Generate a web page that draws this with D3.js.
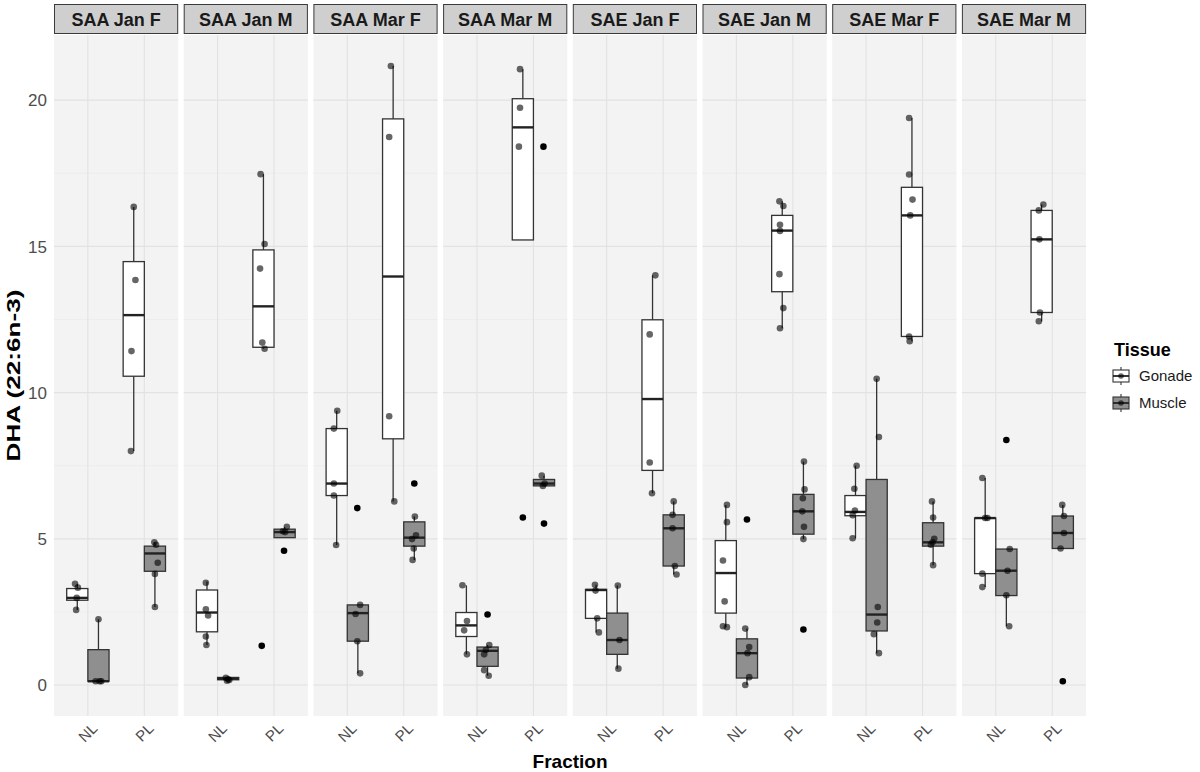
<!DOCTYPE html>
<html>
<head>
<meta charset="utf-8">
<script src="https://cdn.jsdelivr.net/npm/d3@7"></script>
<style>
  body { margin: 0; background: #fff; }
  text { font-family: "Liberation Sans", Arial, sans-serif; }
</style>
</head>
<body>
<svg id="chart" width="1200" height="772"></svg>
<script>
const panels = ["SAA Jan F", "SAA Jan M", "SAA Mar F", "SAA Mar M",
                "SAE Jan F", "SAE Jan M", "SAE Mar F", "SAE Mar M"];
const fractions = ["NL", "PL"];
const tissues = ["Gonade", "Muscle"];
const yTicks = [0, 5, 10, 15, 20];

// panel, fraction, tissue, lower whisker, q1, median, q3, upper whisker
const boxStats = [
  ["SAA Jan F", "NL", "Gonade", 2.57, 2.90, 2.98, 3.30, 3.46],
  ["SAA Jan F", "NL", "Muscle", 0.13, 0.13, 0.13, 1.21, 2.25],
  ["SAA Jan F", "PL", "Gonade", 8.00, 10.56, 12.65, 14.48, 16.35],
  ["SAA Jan F", "PL", "Muscle", 2.67, 3.89, 4.50, 4.75, 4.88],
  ["SAA Jan M", "NL", "Gonade", 1.37, 1.82, 2.48, 3.25, 3.54],
  ["SAA Jan M", "NL", "Muscle", 0.15, 0.18, 0.22, 0.26, 0.28],
  ["SAA Jan M", "PL", "Gonade", 11.50, 11.55, 12.95, 14.88, 17.47],
  ["SAA Jan M", "PL", "Muscle", 5.04, 5.04, 5.23, 5.33, 5.41],
  ["SAA Mar F", "NL", "Gonade", 4.79, 6.48, 6.89, 8.77, 9.38],
  ["SAA Mar F", "NL", "Muscle", 0.40, 1.50, 2.46, 2.74, 2.74],
  ["SAA Mar F", "PL", "Gonade", 6.28, 8.42, 13.97, 19.36, 21.17],
  ["SAA Mar F", "PL", "Muscle", 4.28, 4.75, 5.04, 5.58, 5.76],
  ["SAA Mar M", "NL", "Gonade", 1.05, 1.66, 2.04, 2.48, 3.41],
  ["SAA Mar M", "NL", "Muscle", 0.32, 0.64, 1.17, 1.30, 1.37],
  ["SAA Mar M", "PL", "Gonade", 15.22, 15.22, 19.07, 20.05, 21.06],
  ["SAA Mar M", "PL", "Muscle", 6.81, 6.81, 6.89, 7.03, 7.16],
  ["SAE Jan F", "NL", "Gonade", 1.80, 2.28, 3.25, 3.27, 3.43],
  ["SAE Jan F", "NL", "Muscle", 0.56, 1.05, 1.54, 2.46, 3.40],
  ["SAE Jan F", "PL", "Gonade", 6.56, 7.34, 9.78, 12.49, 14.01],
  ["SAE Jan F", "PL", "Muscle", 3.78, 4.07, 5.36, 5.82, 6.28],
  ["SAE Jan M", "NL", "Gonade", 1.98, 2.46, 3.83, 4.94, 6.16],
  ["SAE Jan M", "NL", "Muscle", 0.00, 0.24, 1.09, 1.58, 1.93],
  ["SAE Jan M", "PL", "Gonade", 12.20, 13.45, 15.54, 16.06, 16.54],
  ["SAE Jan M", "PL", "Muscle", 4.99, 5.16, 5.94, 6.52, 7.64],
  ["SAE Mar F", "NL", "Gonade", 5.02, 5.79, 5.92, 6.48, 7.50],
  ["SAE Mar F", "NL", "Muscle", 1.09, 1.85, 2.41, 7.03, 10.47],
  ["SAE Mar F", "PL", "Gonade", 11.76, 11.92, 16.06, 17.02, 19.39],
  ["SAE Mar F", "PL", "Muscle", 4.10, 4.75, 4.88, 5.55, 6.28],
  ["SAE Mar M", "NL", "Gonade", 3.35, 3.81, 5.71, 5.71, 7.08],
  ["SAE Mar M", "NL", "Muscle", 2.01, 3.06, 3.91, 4.65, 4.65],
  ["SAE Mar M", "PL", "Gonade", 12.44, 12.74, 15.24, 16.23, 16.43],
  ["SAE Mar M", "PL", "Muscle", 4.67, 4.67, 5.20, 5.78, 6.16]
];

// panel, fraction, tissue, value, jitter (share of a category step)
const observations = [
  ["SAA Jan F", "NL", "Gonade", 3.46, -0.04], ["SAA Jan F", "NL", "Gonade", 3.33, 0.01],
  ["SAA Jan F", "NL", "Gonade", 2.98, -0.01], ["SAA Jan F", "NL", "Gonade", 2.57, -0.02],
  ["SAA Jan F", "NL", "Muscle", 2.25, 0.00], ["SAA Jan F", "NL", "Muscle", 0.13, -0.05],
  ["SAA Jan F", "NL", "Muscle", 0.13, 0.02], ["SAA Jan F", "NL", "Muscle", 0.13, 0.05],
  ["SAA Jan F", "PL", "Gonade", 16.35, 0.00], ["SAA Jan F", "PL", "Gonade", 13.85, 0.03],
  ["SAA Jan F", "PL", "Gonade", 11.42, -0.04], ["SAA Jan F", "PL", "Gonade", 8.00, -0.05],
  ["SAA Jan F", "PL", "Muscle", 4.88, -0.01], ["SAA Jan F", "PL", "Muscle", 4.80, 0.02],
  ["SAA Jan F", "PL", "Muscle", 4.18, 0.05], ["SAA Jan F", "PL", "Muscle", 3.80, 0.00],
  ["SAA Jan F", "PL", "Muscle", 2.67, 0.00],

  ["SAA Jan M", "NL", "Gonade", 3.50, -0.02], ["SAA Jan M", "NL", "Gonade", 2.59, -0.02],
  ["SAA Jan M", "NL", "Gonade", 2.38, 0.02], ["SAA Jan M", "NL", "Gonade", 1.66, -0.02],
  ["SAA Jan M", "NL", "Gonade", 1.37, -0.01],
  ["SAA Jan M", "NL", "Muscle", 0.25, -0.04], ["SAA Jan M", "NL", "Muscle", 0.20, 0.00],
  ["SAA Jan M", "NL", "Muscle", 0.17, 0.02], ["SAA Jan M", "NL", "Muscle", 0.15, -0.02],
  ["SAA Jan M", "PL", "Gonade", 17.47, -0.05], ["SAA Jan M", "PL", "Gonade", 15.08, 0.02],
  ["SAA Jan M", "PL", "Gonade", 14.24, -0.06], ["SAA Jan M", "PL", "Gonade", 11.71, -0.02],
  ["SAA Jan M", "PL", "Gonade", 11.50, 0.02],
  ["SAA Jan M", "PL", "Muscle", 5.26, -0.03], ["SAA Jan M", "PL", "Muscle", 5.41, 0.04],
  ["SAA Jan M", "PL", "Muscle", 5.23, 0.01],

  ["SAA Mar F", "NL", "Gonade", 9.38, 0.01], ["SAA Mar F", "NL", "Gonade", 8.77, -0.05],
  ["SAA Mar F", "NL", "Gonade", 6.89, -0.05], ["SAA Mar F", "NL", "Gonade", 6.48, -0.05],
  ["SAA Mar F", "NL", "Gonade", 4.79, -0.01],
  ["SAA Mar F", "NL", "Muscle", 2.74, 0.04], ["SAA Mar F", "NL", "Muscle", 2.43, -0.04],
  ["SAA Mar F", "NL", "Muscle", 1.50, -0.01], ["SAA Mar F", "NL", "Muscle", 0.40, 0.04],
  ["SAA Mar F", "PL", "Gonade", 21.17, -0.04], ["SAA Mar F", "PL", "Gonade", 18.74, -0.07],
  ["SAA Mar F", "PL", "Gonade", 9.19, -0.07], ["SAA Mar F", "PL", "Gonade", 6.28, 0.02],
  ["SAA Mar F", "PL", "Muscle", 5.76, 0.01], ["SAA Mar F", "PL", "Muscle", 5.12, 0.03],
  ["SAA Mar F", "PL", "Muscle", 4.99, -0.04], ["SAA Mar F", "PL", "Muscle", 4.67, -0.01],
  ["SAA Mar F", "PL", "Muscle", 4.28, -0.03],

  ["SAA Mar M", "NL", "Gonade", 3.41, -0.07], ["SAA Mar M", "NL", "Gonade", 2.19, 0.01],
  ["SAA Mar M", "NL", "Gonade", 1.87, -0.04], ["SAA Mar M", "NL", "Gonade", 1.05, 0.01],
  ["SAA Mar M", "NL", "Muscle", 1.37, 0.03], ["SAA Mar M", "NL", "Muscle", 1.20, -0.03],
  ["SAA Mar M", "NL", "Muscle", 1.05, -0.06], ["SAA Mar M", "NL", "Muscle", 0.51, -0.06],
  ["SAA Mar M", "NL", "Muscle", 0.32, 0.02],
  ["SAA Mar M", "PL", "Gonade", 21.06, -0.05], ["SAA Mar M", "PL", "Gonade", 19.74, -0.05],
  ["SAA Mar M", "PL", "Gonade", 18.41, -0.07],
  ["SAA Mar M", "PL", "Muscle", 7.16, -0.04], ["SAA Mar M", "PL", "Muscle", 6.81, -0.02],
  ["SAA Mar M", "PL", "Muscle", 6.89, 0.01],

  ["SAE Jan F", "NL", "Gonade", 3.43, -0.02], ["SAE Jan F", "NL", "Gonade", 3.23, -0.01],
  ["SAE Jan F", "NL", "Gonade", 2.28, 0.02], ["SAE Jan F", "NL", "Gonade", 1.80, 0.05],
  ["SAE Jan F", "NL", "Muscle", 3.40, 0.01], ["SAE Jan F", "NL", "Muscle", 1.54, 0.04],
  ["SAE Jan F", "NL", "Muscle", 0.56, 0.02],
  ["SAE Jan F", "PL", "Gonade", 14.01, 0.05], ["SAE Jan F", "PL", "Gonade", 11.99, -0.05],
  ["SAE Jan F", "PL", "Gonade", 7.61, -0.05], ["SAE Jan F", "PL", "Gonade", 6.56, -0.01],
  ["SAE Jan F", "PL", "Muscle", 6.28, 0.00], ["SAE Jan F", "PL", "Muscle", 5.82, -0.02],
  ["SAE Jan F", "PL", "Muscle", 5.36, -0.02], ["SAE Jan F", "PL", "Muscle", 4.07, 0.02],
  ["SAE Jan F", "PL", "Muscle", 3.78, 0.05],

  ["SAE Jan M", "NL", "Gonade", 6.16, 0.02], ["SAE Jan M", "NL", "Gonade", 5.57, 0.02],
  ["SAE Jan M", "NL", "Gonade", 4.26, -0.05], ["SAE Jan M", "NL", "Gonade", 2.86, -0.02],
  ["SAE Jan M", "NL", "Gonade", 2.01, -0.05], ["SAE Jan M", "NL", "Gonade", 1.98, 0.02],
  ["SAE Jan M", "NL", "Muscle", 1.93, -0.03], ["SAE Jan M", "NL", "Muscle", 1.30, 0.04],
  ["SAE Jan M", "NL", "Muscle", 1.09, 0.01], ["SAE Jan M", "NL", "Muscle", 0.27, 0.04],
  ["SAE Jan M", "NL", "Muscle", 0.00, -0.03],
  ["SAE Jan M", "PL", "Gonade", 16.54, -0.05], ["SAE Jan M", "PL", "Gonade", 16.38, 0.02],
  ["SAE Jan M", "PL", "Gonade", 15.74, -0.04], ["SAE Jan M", "PL", "Gonade", 15.53, -0.04],
  ["SAE Jan M", "PL", "Gonade", 14.05, -0.05], ["SAE Jan M", "PL", "Gonade", 12.89, 0.02],
  ["SAE Jan M", "PL", "Gonade", 12.20, -0.04],
  ["SAE Jan M", "PL", "Muscle", 7.64, 0.01], ["SAE Jan M", "PL", "Muscle", 6.69, 0.02],
  ["SAE Jan M", "PL", "Muscle", 6.39, -0.01], ["SAE Jan M", "PL", "Muscle", 5.94, -0.02],
  ["SAE Jan M", "PL", "Muscle", 5.41, 0.01], ["SAE Jan M", "PL", "Muscle", 4.99, 0.00],

  ["SAE Mar F", "NL", "Gonade", 7.50, 0.02], ["SAE Mar F", "NL", "Gonade", 6.71, -0.02],
  ["SAE Mar F", "NL", "Gonade", 5.97, -0.01], ["SAE Mar F", "NL", "Gonade", 5.81, -0.05],
  ["SAE Mar F", "NL", "Gonade", 5.02, -0.05],
  ["SAE Mar F", "NL", "Muscle", 10.47, 0.00], ["SAE Mar F", "NL", "Muscle", 8.48, 0.04],
  ["SAE Mar F", "NL", "Muscle", 2.67, 0.02], ["SAE Mar F", "NL", "Muscle", 2.14, 0.01],
  ["SAE Mar F", "NL", "Muscle", 1.74, -0.05], ["SAE Mar F", "NL", "Muscle", 1.09, 0.04],
  ["SAE Mar F", "PL", "Gonade", 19.39, -0.05], ["SAE Mar F", "PL", "Gonade", 17.46, -0.05],
  ["SAE Mar F", "PL", "Gonade", 16.60, 0.01], ["SAE Mar F", "PL", "Gonade", 16.06, -0.03],
  ["SAE Mar F", "PL", "Gonade", 11.92, -0.05], ["SAE Mar F", "PL", "Gonade", 11.76, -0.04],
  ["SAE Mar F", "PL", "Muscle", 6.28, -0.02], ["SAE Mar F", "PL", "Muscle", 5.73, 0.00],
  ["SAE Mar F", "PL", "Muscle", 5.00, 0.02], ["SAE Mar F", "PL", "Muscle", 4.88, -0.01],
  ["SAE Mar F", "PL", "Muscle", 4.80, -0.04], ["SAE Mar F", "PL", "Muscle", 4.10, 0.00],

  ["SAE Mar M", "NL", "Gonade", 7.08, -0.05], ["SAE Mar M", "NL", "Gonade", 5.71, 0.00],
  ["SAE Mar M", "NL", "Gonade", 5.71, 0.04], ["SAE Mar M", "NL", "Gonade", 3.81, -0.05],
  ["SAE Mar M", "NL", "Gonade", 3.35, -0.05],
  ["SAE Mar M", "NL", "Muscle", 4.65, 0.06], ["SAE Mar M", "NL", "Muscle", 3.91, 0.02],
  ["SAE Mar M", "NL", "Muscle", 3.07, 0.00], ["SAE Mar M", "NL", "Muscle", 2.01, 0.05],
  ["SAE Mar M", "PL", "Gonade", 16.43, 0.03], ["SAE Mar M", "PL", "Gonade", 16.23, -0.05],
  ["SAE Mar M", "PL", "Gonade", 15.24, -0.04], ["SAE Mar M", "PL", "Gonade", 12.74, -0.03],
  ["SAE Mar M", "PL", "Gonade", 12.44, -0.05],
  ["SAE Mar M", "PL", "Muscle", 6.16, -0.01], ["SAE Mar M", "PL", "Muscle", 5.78, 0.02],
  ["SAE Mar M", "PL", "Muscle", 5.20, 0.02], ["SAE Mar M", "PL", "Muscle", 4.67, -0.04]
];

// boxplot outliers: panel, fraction, dodge slot, value, jitter
const outliers = [
  ["SAA Jan M", "PL", "Muscle", 4.59, -0.01], ["SAA Jan M", "PL", "Gonade", 1.34, -0.03],
  ["SAA Mar F", "NL", "Muscle", 6.05, -0.01], ["SAA Mar F", "PL", "Muscle", 6.89, 0.00],
  ["SAA Mar M", "NL", "Muscle", 2.41, 0.00], ["SAA Mar M", "PL", "Muscle", 18.41, -0.01],
  ["SAA Mar M", "PL", "Muscle", 5.52, 0.00], ["SAA Mar M", "PL", "Gonade", 5.73, 0.00],
  ["SAE Jan M", "NL", "Muscle", 5.66, 0.00], ["SAE Jan M", "PL", "Muscle", 1.90, 0.00],
  ["SAE Mar M", "NL", "Muscle", 8.38, 0.00], ["SAE Mar M", "PL", "Muscle", 0.13, 0.00]
];

const fills = { Gonade: "#ffffff", Muscle: "#8f8f8f" };

const svg = d3.select("#chart");
const panelLeft = 54, panelWidth = 124.2, panelGap = 5.5;
const panelTop = 35, panelBottom = 716, stripTop = 4;

const allValues = boxStats.flatMap((d) => [d[3], d[7]])
  .concat(observations.map((d) => d[3]), outliers.map((d) => d[3]));
const [vMin, vMax] = d3.extent(allValues);
const pad = (vMax - vMin) * 0.05;
const y = d3.scaleLinear().domain([vMin - pad, vMax + pad]).range([panelBottom, panelTop]);

const facet = d3.scaleBand()
  .domain(panels)
  .range([panelLeft, panelLeft + 8 * panelWidth + 7 * panelGap])
  .paddingInner(panelGap / (panelWidth + panelGap));

const x = d3.scalePoint().domain(fractions).range([0, facet.bandwidth()]).padding(0.6);
const dodge = d3.scaleBand().domain(tissues).range([-0.375, 0.375]);
const slotX = (f, t, j = 0) =>
  x(f) + (dodge(t) + dodge.bandwidth() / 2 + j) * x.step();
const boxW = dodge.bandwidth() * x.step();

const minorTicks = d3.range(0, yTicks.length - 1).map((i) => (yTicks[i] + yTicks[i + 1]) / 2)
  .filter((v) => v > y.domain()[0] && v < y.domain()[1]);

panels.forEach((p) => {
  const g = svg.append("g").attr("transform", `translate(${facet(p)},0)`);
  const w = facet.bandwidth();

  g.append("rect")
    .attr("x", 0).attr("y", panelTop)
    .attr("width", w).attr("height", panelBottom - panelTop)
    .attr("fill", "#f3f3f3");

  g.selectAll(".minor").data(minorTicks).enter().append("line")
    .attr("x1", 0).attr("x2", w)
    .attr("y1", (d) => y(d)).attr("y2", (d) => y(d))
    .attr("stroke", "#e9e9e9").attr("stroke-width", 0.6);

  g.selectAll(".major").data(yTicks).enter().append("line")
    .attr("x1", 0).attr("x2", w)
    .attr("y1", (d) => y(d)).attr("y2", (d) => y(d))
    .attr("stroke", "#e2e2e2").attr("stroke-width", 1.1);

  g.selectAll(".vgrid").data(fractions).enter().append("line")
    .attr("x1", (d) => x(d)).attr("x2", (d) => x(d))
    .attr("y1", panelTop).attr("y2", panelBottom)
    .attr("stroke", "#e2e2e2").attr("stroke-width", 1.1);

  // strip
  g.append("rect")
    .attr("x", 0.5).attr("y", stripTop + 0.5)
    .attr("width", w - 1).attr("height", panelTop - stripTop - 2)
    .attr("fill", "#cfcfcf").attr("stroke", "#3a3a3a").attr("stroke-width", 1);
  g.append("text")
    .attr("x", w / 2).attr("y", (stripTop + panelTop) / 2 + 6)
    .attr("text-anchor", "middle")
    .attr("font-size", 18).attr("font-weight", "bold").attr("fill", "#1a1a1a")
    .text(p);

  const boxes = boxStats.filter((d) => d[0] === p);
  const bg = g.selectAll(".box").data(boxes).enter().append("g");
  bg.append("line")
    .attr("x1", (d) => slotX(d[1], d[2])).attr("x2", (d) => slotX(d[1], d[2]))
    .attr("y1", (d) => y(d[3])).attr("y2", (d) => y(d[7]))
    .attr("stroke", "#333").attr("stroke-width", 1.3);
  bg.append("rect")
    .attr("x", (d) => slotX(d[1], d[2]) - boxW / 2)
    .attr("y", (d) => y(d[6]))
    .attr("width", boxW)
    .attr("height", (d) => Math.max(0.5, y(d[4]) - y(d[6])))
    .attr("fill", (d) => fills[d[2]])
    .attr("stroke", "#333").attr("stroke-width", 1.3);
  bg.append("line")
    .attr("x1", (d) => slotX(d[1], d[2]) - boxW / 2)
    .attr("x2", (d) => slotX(d[1], d[2]) + boxW / 2)
    .attr("y1", (d) => y(d[5])).attr("y2", (d) => y(d[5]))
    .attr("stroke", "#222").attr("stroke-width", 2.4);

  g.selectAll(".outlier").data(outliers.filter((d) => d[0] === p)).enter().append("circle")
    .attr("cx", (d) => slotX(d[1], d[2], d[4]))
    .attr("cy", (d) => y(d[3]))
    .attr("r", 3.3)
    .attr("fill", "#000");

  g.selectAll(".obs").data(observations.filter((d) => d[0] === p)).enter().append("circle")
    .attr("cx", (d) => slotX(d[1], d[2], d[4]))
    .attr("cy", (d) => y(d[3]))
    .attr("r", 3.3)
    .attr("fill", "#000").attr("fill-opacity", 0.6);

  g.selectAll(".xlab").data(fractions).enter().append("text")
    .attr("transform", (d) => `translate(${x(d) + 3},${panelBottom + 6}) rotate(-45)`)
    .attr("text-anchor", "end")
    .attr("dy", "0.7em")
    .attr("font-size", 15).attr("fill", "#4d4d4d")
    .text((d) => d);
});

// y axis labels
svg.selectAll(".ylab").data(yTicks).enter().append("text")
  .attr("x", panelLeft - 7).attr("y", (d) => y(d))
  .attr("dy", "0.36em")
  .attr("text-anchor", "end")
  .attr("font-size", 17).attr("fill", "#4d4d4d")
  .text((d) => d);

svg.append("text")
  .attr("transform", `translate(20,${(panelTop + panelBottom) / 2}) rotate(-90)`)
  .attr("text-anchor", "middle")
  .attr("font-size", 18).attr("font-weight", "bold").attr("fill", "#000")
  .attr("textLength", 172).attr("lengthAdjust", "spacingAndGlyphs")
  .text("DHA (22:6n-3)");

svg.append("text")
  .attr("x", (facet.range()[0] + facet.range()[1]) / 2).attr("y", 768)
  .attr("text-anchor", "middle")
  .attr("font-size", 19).attr("font-weight", "bold").attr("fill", "#000")
  .text("Fraction");

// legend
const legend = svg.append("g").attr("transform", "translate(1112,0)");
legend.append("text")
  .attr("x", 2).attr("y", 356)
  .attr("font-size", 18).attr("font-weight", "bold").attr("fill", "#000")
  .text("Tissue");
const key = legend.selectAll(".key").data(tissues).enter().append("g")
  .attr("transform", (d, i) => `translate(0,${376 + i * 27})`);
key.append("line")
  .attr("x1", 9).attr("x2", 9).attr("y1", -9).attr("y2", 9)
  .attr("stroke", "#333").attr("stroke-width", 1.1);
key.append("rect")
  .attr("x", 1).attr("y", -6).attr("width", 16).attr("height", 12)
  .attr("fill", (d) => fills[d]).attr("stroke", "#333").attr("stroke-width", 1.1);
key.append("line")
  .attr("x1", 1).attr("x2", 17).attr("y1", 0).attr("y2", 0)
  .attr("stroke", "#222").attr("stroke-width", 1.8);
key.append("circle")
  .attr("cx", 9).attr("cy", 0).attr("r", 2.8)
  .attr("fill", "#000").attr("fill-opacity", 0.6);
key.append("text")
  .attr("x", 27).attr("y", 0).attr("dy", "0.36em")
  .attr("font-size", 15).attr("fill", "#1a1a1a")
  .text((d) => d);
</script>
</body>
</html>
